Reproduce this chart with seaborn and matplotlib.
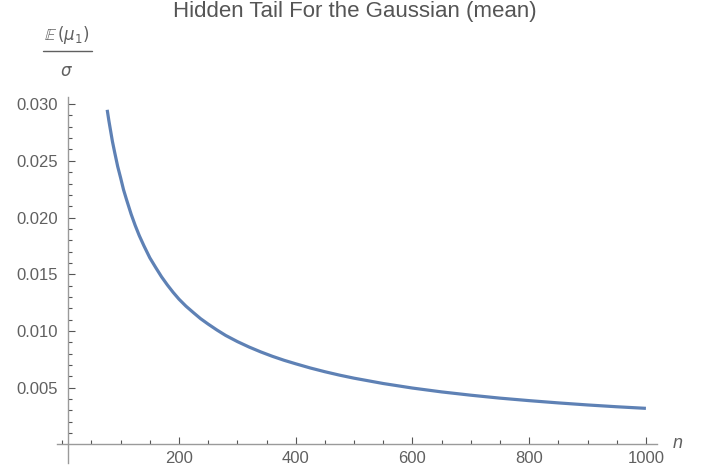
import numpy as np
import pandas as pd
import matplotlib
matplotlib.use("Agg")
import matplotlib.pyplot as plt
from matplotlib.lines import Line2D
from matplotlib.ticker import FixedLocator
import seaborn as sns

# values
n_values = [77, 80, 83, 86, 90, 95, 100, 105, 110, 118, 125, 132, 140, 150, 160, 170,
            180, 190, 200, 212, 225, 237, 250, 265, 280, 300, 320, 340, 360, 380, 400,
            425, 450, 475, 500, 550, 600, 650, 700, 750, 800, 850, 900, 950, 1000]
tail_ratio = [0.0295, 0.0285, 0.0276, 0.0267, 0.0257, 0.0245, 0.0235, 0.02245, 0.0216,
              0.0203, 0.0193, 0.0184, 0.0175, 0.01645, 0.0156, 0.01478, 0.01406, 0.0134,
              0.0128, 0.01218, 0.0116, 0.01108, 0.0106, 0.01008, 0.0096, 0.00906,
              0.00858, 0.00815, 0.00776, 0.00741, 0.0071, 0.00673, 0.0064, 0.0061,
              0.00583, 0.00536, 0.00496, 0.00462, 0.00433, 0.00407, 0.00385, 0.00365,
              0.00347, 0.00331, 0.00317]

x_major = [200, 400, 600, 800, 1000]
x_minor = [0, 50, 100, 150, 250, 300, 350, 450, 500, 550, 650, 700, 750, 850, 900, 950]
y_major = [0.005, 0.010, 0.015, 0.020, 0.025, 0.030]
y_minor = [0.001, 0.002, 0.003, 0.004, 0.006, 0.007, 0.008, 0.009, 0.011, 0.012, 0.013,
           0.014, 0.016, 0.017, 0.018, 0.019, 0.021, 0.022, 0.023, 0.024, 0.026, 0.027,
           0.028, 0.029]

sns.set_style("white")
plt.rcParams['font.family'] = ['Liberation Sans', 'DejaVu Sans']
plt.rcParams['mathtext.fontset'] = 'dejavusans'

label_gray = '#606060'
axis_gray = '#9a9a9a'
line_blue = '#5e81b5'

df = pd.DataFrame({'n': n_values, 'ratio': tail_ratio})

fig = plt.figure(figsize=(7.05, 4.76), dpi=100)
ax = fig.add_axes([57 / 705, 13 / 476, 600 / 705, 366 / 476])

sns.lineplot(data=df, x='n', y='ratio', ax=ax, color=line_blue, lw=2.3,
             solid_capstyle='butt', solid_joinstyle='round')

ax.set_xlim(-9, 1019)
ax.set_ylim(-0.00165, 0.03063)

# mathematica style axes crossing inside the frame
ax.spines['top'].set_visible(False)
ax.spines['right'].set_visible(False)
ax.spines['left'].set_position(('data', 10))
ax.spines['bottom'].set_position(('data', 0))
for side in ['left', 'bottom']:
    ax.spines[side].set_color(axis_gray)
    ax.spines[side].set_linewidth(1.0)

ax.xaxis.set_major_locator(FixedLocator(x_major))
ax.xaxis.set_minor_locator(FixedLocator(x_minor))
ax.yaxis.set_major_locator(FixedLocator(y_major))
ax.yaxis.set_minor_locator(FixedLocator(y_minor))
ax.set_xticklabels([str(v) for v in x_major])
ax.set_yticklabels([f'{v:.3f}' for v in y_major])

ax.tick_params(which='both', direction='in', bottom=True, left=True,
               color='#555555', width=0.8, labelcolor=label_gray, labelsize=12)
ax.tick_params(which='major', length=5)
ax.tick_params(which='minor', length=3)
ax.tick_params(axis='y', which='both', pad=7.5)
ax.tick_params(axis='x', which='both', pad=5)

ax.set_xlabel('')
ax.set_ylabel('')

# axis labels
fig.text(673 / 705, 1 - 443 / 476, 'n', style='italic', fontsize=13,
         color=label_gray, va='center', ha='left')
fig.text(67 / 705, 1 - 35 / 476, r'$\mathbb{E}\,(\mu_1)$', fontsize=12,
         color=label_gray, ha='center', va='center')
fig.add_artist(Line2D([43 / 705, 92 / 705], [1 - 51 / 476, 1 - 51 / 476],
                      color=label_gray, lw=1.0))
fig.text(66 / 705, 1 - 72 / 476, r'$\sigma$', fontsize=12,
         color=label_gray, ha='center', va='center')

fig.text(355 / 705, 1 - 17.5 / 476, 'Hidden Tail For the Gaussian (mean)', fontsize=16,
         color='#555555', ha='center', va='baseline')

fig.savefig('out.png', dpi=100)
